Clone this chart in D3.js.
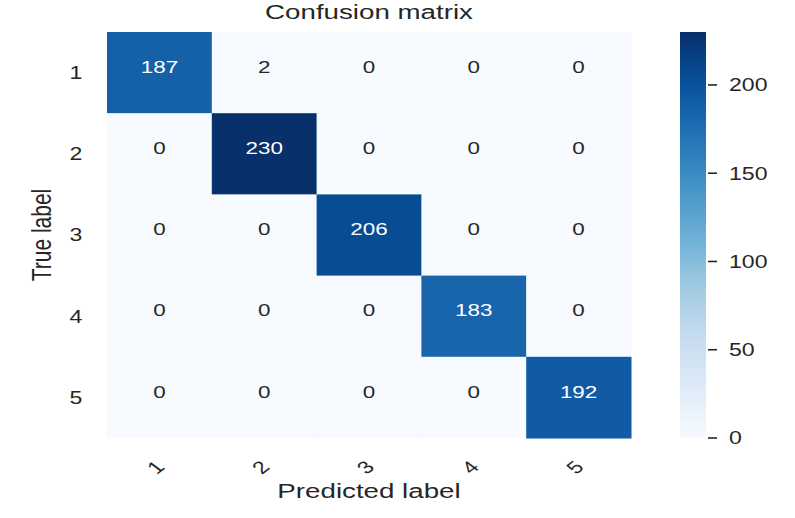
<!DOCTYPE html>
<html>
<head>
<meta charset="utf-8">
<script src="https://cdn.jsdelivr.net/npm/d3@7"></script>
<style>
  html, body { margin: 0; padding: 0; background: #ffffff; }
  svg { display: block; }
  text { font-family: "Liberation Sans", Arial, Helvetica, sans-serif; fill: #262626; }
</style>
</head>
<body>
<svg id="chart" width="795" height="518"></svg>
<script>
// ---- data ----
const labels = ["1", "2", "3", "4", "5"];
const row1 = [187, 2, 0, 0, 0];
const row2 = [0, 230, 0, 0, 0];
const row3 = [0, 0, 206, 0, 0];
const row4 = [0, 0, 0, 183, 0];
const row5 = [0, 0, 0, 0, 192];
const rows = [row1, row2, row3, row4, row5];
const colorbarTicks = [0, 50, 100, 150, 200];
const colorMax = 230;
const titleText = "Confusion matrix";
const xLabelText = "Predicted label";
const yLabelText = "True label";

// ---- layout ----
const SX = 1.32; // horizontal stretch of the glyphs in the reference
const svg = d3.select("#chart");
const plotLeft = 107, plotRight = 631, plotTop = 32, plotBottom = 438;

const x = d3.scaleBand().domain(labels).range([plotLeft, plotRight]);
const y = d3.scaleBand().domain(labels).range([plotTop, plotBottom]);
// matplotlib "Blues": linear segments through the 9 ColorBrewer colours
const color = d3.scaleSequential(d3.piecewise(d3.interpolateRgb, d3.schemeBlues[9])).domain([0, colorMax]);

function place(sel, px, py, rot) {
  sel.attr("transform", `translate(${px},${py}) scale(${SX},1)` + (rot ? ` rotate(${rot})` : ""));
  return sel;
}
function luminance(c) {
  const r = d3.rgb(c);
  const f = v => { v /= 255; return v <= 0.03928 ? v / 12.92 : Math.pow((v + 0.055) / 1.055, 2.4); };
  return 0.2126 * f(r.r) + 0.7152 * f(r.g) + 0.0722 * f(r.b);
}

const cells = [];
rows.forEach((r, i) => r.forEach((v, j) => cells.push({ t: labels[i], p: labels[j], v })));

// cells
svg.append("g").selectAll("rect").data(cells).join("rect")
  .attr("x", d => x(d.p))
  .attr("y", d => y(d.t))
  .attr("width", x.bandwidth() + 0.5)
  .attr("height", y.bandwidth() + 0.5)
  .attr("fill", d => color(d.v));

// annotations
const annFont = 17;
svg.append("g").selectAll("text").data(cells).join("text")
  .attr("text-anchor", "middle")
  .style("font-size", annFont + "px")
  .style("fill", d => luminance(color(d.v)) > 0.408 ? "#262626" : "#ffffff")
  .each(function (d) {
    place(d3.select(this), x(d.p) + x.bandwidth() / 2, y(d.t) + y.bandwidth() / 2 - 6 + annFont * 0.36);
  })
  .text(d => d.v);

// y tick labels
const tickFont = 17.5;
svg.append("g").selectAll("text").data(labels).join("text")
  .attr("text-anchor", "middle")
  .style("font-size", tickFont + "px")
  .each(function (d) { place(d3.select(this), 76, y(d) + y.bandwidth() / 2 + tickFont * 0.36); })
  .text(d => d);

// x tick labels (rotated 45°)
svg.append("g").selectAll("text").data(labels).join("text")
  .attr("text-anchor", "middle")
  .attr("dominant-baseline", "central")
  .style("font-size", tickFont + "px")
  .each(function (d) { place(d3.select(this), x(d) + x.bandwidth() / 2 - 4, 467, -45); })
  .text(d => d);

// axis labels and title
const labFont = 21;
place(svg.append("text").attr("text-anchor", "middle").style("font-size", labFont + "px").text(titleText),
  (plotLeft + plotRight) / 2, 19);
place(svg.append("text").attr("text-anchor", "middle").style("font-size", labFont + "px").text(xLabelText),
  (plotLeft + plotRight) / 2, 498);
place(svg.append("text").attr("text-anchor", "middle").style("font-size", labFont + "px").text(yLabelText),
  51, (plotTop + plotBottom) / 2, -90);

// colorbar
const cbX = 680, cbW = 26;
const cy = d3.scaleLinear().domain([0, colorMax]).range([plotBottom, plotTop]);
const defs = svg.append("defs");
const grad = defs.append("linearGradient").attr("id", "cbgrad")
  .attr("x1", 0).attr("y1", 1).attr("x2", 0).attr("y2", 0);
d3.range(0, 1.0001, 0.02).forEach(t => {
  grad.append("stop").attr("offset", t).attr("stop-color", color(t * colorMax));
});
svg.append("rect")
  .attr("x", cbX).attr("y", cy(colorMax))
  .attr("width", cbW).attr("height", cy(0) - cy(colorMax))
  .attr("fill", "url(#cbgrad)");

const cbAxis = svg.append("g");
cbAxis.selectAll("line").data(colorbarTicks).join("line")
  .attr("x1", cbX + cbW + 2).attr("x2", cbX + cbW + 11)
  .attr("y1", d => cy(d)).attr("y2", d => cy(d))
  .attr("stroke", "#262626").attr("stroke-width", 1.6);
cbAxis.selectAll("text").data(colorbarTicks).join("text")
  .attr("text-anchor", "start")
  .style("font-size", tickFont + "px")
  .each(function (d) { place(d3.select(this), 729, cy(d) + tickFont * 0.36); })
  .text(d => d);
</script>
</body>
</html>
